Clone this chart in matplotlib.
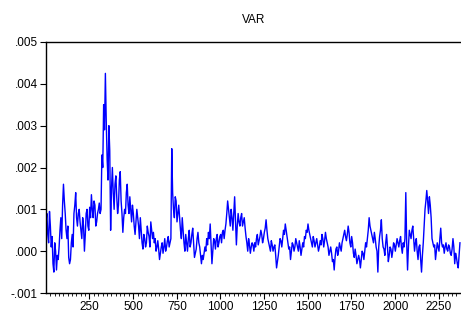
import numpy as np
import matplotlib
matplotlib.use("Agg")
import matplotlib.pyplot as plt
from matplotlib.ticker import MultipleLocator, FuncFormatter

# observation index (every 5th observation)
obs = np.arange(1, 2372, 5)

# estimated VAR values (in thousandths) at observations 1, 11, 21, ...
var_main = [
    0.7, 0.4, 0.95, 0.1, -0.3, 0.2, -0.45, -0.2, 0.5, 0.3,
    1.6, 0.9, 0.3, -0.15, -0.2, 0.4, 0.9, 1.4, 0.6, 1.0,
    0.5, 0.8, 0.0, 0.9, 0.6, 1.05, 1.35, 0.8, 1.1, 0.7,
    1.0, 0.9, 2.3, 3.5, 4.25, 2.2, 3.0, 0.5, 2.0, 1.0,
    1.8, 0.9, 1.7, 1.2, 0.45, 1.0, 1.4, 1.1, 1.3, 0.7,
    0.9, 0.4, 1.0, 0.6, 0.8, 0.2, 0.4, 0.1, 0.6, 0.35,
    0.7, 0.3, 0.2, 0.0, 0.25, -0.2, 0.1, -0.05, 0.3, 0.1,
    0.35, 0.2, 2.45, 1.0, 1.3, 0.7, 1.1, 0.5, 0.8, 0.2,
    0.4, 0.0, 0.5, 0.2, 0.55, -0.15, 0.05, 0.45, 0.1, -0.3,
    -0.2, 0.1, 0.3, 0.45, 0.65, -0.3, 0.3, 0.05, 0.4, 0.2,
    0.4, 0.45, 0.3, 0.65, 1.2, 0.8, 1.0, 0.5, 1.3, 0.15,
    0.9, 0.6, 0.9, 0.7, 0.55, 0.2, 0.3, -0.05, 0.2, 0.0,
    0.1, 0.4, 0.25, 0.5, 0.2, 0.45, 0.75, 0.3, 0.1, 0.25,
    0.0, 0.15, -0.4, -0.1, 0.3, 0.1, 0.5, 0.65, 0.35, 0.05,
    -0.2, 0.2, 0.0, 0.3, 0.1, 0.25, -0.1, 0.2, 0.35, 0.5,
    0.65, 0.4, 0.2, 0.35, 0.1, 0.3, 0.0, 0.25, 0.4, 0.1,
    0.45, 0.2, -0.1, 0.1, -0.25, -0.45, 0.05, -0.1, 0.2, 0.0,
    0.3, 0.5, 0.25, 0.6, 0.2, 0.35, -0.05, 0.05, -0.3, -0.1,
    -0.4, 0.0, -0.2, 0.2, 0.3, 0.8, 0.5, 0.3, 0.45, 0.1,
    -0.5, 0.35, 0.75, 0.1, -0.1, 0.4, -0.25, 0.1, -0.15, 0.2,
    0.0, 0.3, 0.1, 0.35, -0.05, 0.1, 1.4, -0.45, 0.5, 0.3,
    0.6, 0.0, 0.3, -0.2, 0.15, -0.5, 0.2, 1.0, 1.45, 0.9,
    1.1, 0.3, 0.1, -0.2, 0.2, 0.0, 0.55, 0.1, -0.05, 0.2,
    0.0, 0.1, -0.1, 0.3, -0.3, -0.15, -0.4, 0.2,
]

# estimated VAR values (in thousandths) at observations 6, 16, 26, ...
var_mid = [
    0.9, 0.2, 0.6, 0.35, -0.5, 0.0, -0.1, 0.1, 0.8, 1.1,
    1.2, 0.5, 0.6, -0.3, 0.2, 0.1, 1.1, 0.8, 0.9, 0.7,
    0.3, 0.6, 0.4, 1.0, 0.5, 0.8, 1.0, 1.2, 0.6, 0.9,
    1.15, 1.0, 2.0, 2.9, 3.1, 1.7, 2.4, 1.5, 1.4, 1.6,
    1.3, 1.1, 1.9, 0.9, 0.8, 0.9, 1.6, 0.9, 1.0, 1.1,
    0.6, 0.7, 0.8, 0.3, 0.5, 0.05, 0.3, 0.2, 0.45, 0.1,
    0.5, 0.45, 0.3, 0.1, 0.05, -0.05, 0.2, 0.1, 0.0, 0.25,
    0.1, 0.3, 1.4, 0.8, 1.2, 0.9, 0.8, 0.3, 0.5, 0.0,
    0.2, 0.3, 0.1, 0.4, 0.2, -0.05, 0.3, 0.2, -0.1, -0.1,
    -0.05, 0.0, 0.15, 0.3, 0.2, 0.0, 0.25, 0.3, 0.1, 0.35,
    0.2, 0.5, 0.5, 0.9, 1.0, 0.6, 0.8, 0.9, 0.7, 0.6,
    0.7, 0.8, 0.6, 0.8, 0.35, 0.0, 0.15, 0.1, 0.15, 0.2,
    0.3, 0.15, 0.35, 0.4, 0.3, 0.55, 0.5, 0.2, 0.0, 0.15,
    0.1, -0.1, -0.25, 0.1, 0.25, 0.3, 0.4, 0.5, 0.2, 0.1,
    0.0, 0.15, 0.1, 0.2, 0.0, 0.1, 0.05, 0.1, 0.3, 0.45,
    0.5, 0.3, 0.1, 0.25, 0.2, 0.15, 0.1, 0.15, 0.3, 0.25,
    0.3, 0.1, 0.0, -0.05, -0.2, -0.15, 0.1, 0.0, 0.1, 0.2,
    0.4, 0.35, 0.4, 0.45, 0.1, 0.2, -0.15, -0.1, -0.2, -0.2,
    -0.2, -0.05, 0.0, 0.1, 0.5, 0.6, 0.4, 0.2, 0.3, 0.0,
    0.1, 0.5, 0.3, 0.05, 0.2, 0.1, -0.1, 0.05, 0.0, 0.15,
    0.15, 0.2, 0.25, 0.1, 0.2, 0.3, 0.2, 0.1, 0.4, 0.5,
    0.3, 0.2, 0.0, 0.1, -0.2, -0.1, 0.6, 1.2, 1.2, 1.3,
    0.8, 0.2, 0.15, 0.0, 0.1, 0.3, 0.2, 0.15, 0.1, 0.05,
    0.15, -0.05, 0.05, 0.1, -0.05, -0.3, -0.1,
]

var_all = np.empty(len(var_main) + len(var_mid))
var_all[0::2] = var_main
var_all[1::2] = var_mid
var_values = var_all / 1000.0

plt.rcParams['font.family'] = ['Liberation Sans', 'DejaVu Sans']

fig = plt.figure(figsize=(4.61, 3.14), dpi=100)
ax = fig.add_axes([46 / 461, 1 - 293 / 314, 1 - 46 / 461, (293 - 42) / 314])
ax.plot(obs, var_values, color=(0, 0, 1), linewidth=1.0)

ax.set_xlim(1, 2377)
ax.set_ylim(-0.001, 0.005)
ax.yaxis.set_major_locator(MultipleLocator(0.001))
ax.xaxis.set_major_locator(MultipleLocator(250))
ax.xaxis.set_minor_locator(MultipleLocator(25))

def yfmt(v, pos):
    s = f"{v:.3f}"
    if s == "-0.000":
        s = "0.000"
    if s.startswith("-0"):
        return "-" + s[2:]
    if s.startswith("0"):
        return s[1:]
    return s

ax.yaxis.set_major_formatter(FuncFormatter(yfmt))
ax.xaxis.set_major_formatter(FuncFormatter(lambda v, p: f"{int(v)}" if v > 0 else ""))

ax.spines['right'].set_visible(False)
for s in ['left', 'top', 'bottom']:
    ax.spines[s].set_linewidth(1.0)
    ax.spines[s].set_color('black')
ax.tick_params(axis='y', direction='out', length=4, width=0.8, labelsize=8.5, pad=2)
ax.tick_params(axis='x', which='major', direction='out', length=4, width=0.8, labelsize=8.5, pad=2)
ax.tick_params(axis='x', which='minor', direction='out', length=2.5, width=0.6)

ax.set_title("VAR", fontsize=8.5, pad=14)

fig.savefig("out.png", dpi=100)
